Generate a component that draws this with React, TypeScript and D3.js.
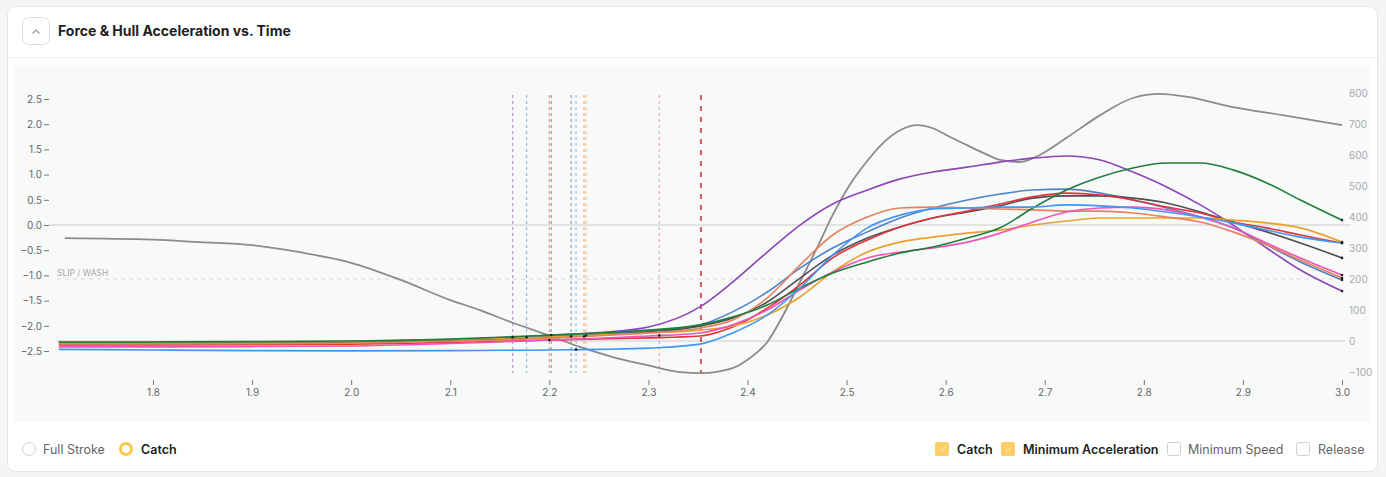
import { useEffect, useRef } from 'react'
import * as d3 from 'd3'

// time grid for the per-seat force curves (s)
const forceTime = [
  1.705, 1.8, 1.9, 2.0, 2.1, 2.15, 2.2, 2.25, 2.3,
  2.352, 2.385, 2.42, 2.453, 2.486, 2.521, 2.554, 2.587, 2.622, 2.655,
  2.688, 2.722, 2.756, 2.789, 2.823, 2.857, 2.89, 2.924, 2.958, 3.0,
]

// force per seat (right axis)
const purpleForce = [-8, -8, -7, -4, 4, 10, 18, 27, 45, 110, 190, 287, 374, 442, 487, 523, 545, 561, 577, 590, 597, 584, 545, 497, 439, 374, 300, 229, 161]
const steelForce = [-6, -6, -5, -3, 4, 9, 15, 22, 32, 52, 94, 158, 235, 300, 352, 397, 429, 455, 474, 487, 490, 477, 455, 429, 400, 365, 310, 255, 197]
const charcoalForce = [-5, -5, -5, -3, 3, 7, 12, 19, 29, 48, 74, 126, 203, 277, 332, 368, 397, 416, 436, 461, 468, 468, 461, 445, 416, 384, 352, 316, 268]
const redForce = [-13, -13, -12, -10, -5, -1, 3, 7, 10, 16, 45, 106, 181, 268, 326, 368, 397, 419, 442, 465, 477, 471, 455, 432, 413, 384, 365, 342, 316]
const orangeForce = [-3, -3, -3, -1, 5, 9, 13, 19, 26, 35, 48, 84, 142, 223, 287, 319, 335, 348, 358, 374, 387, 397, 397, 397, 397, 390, 381, 365, 319]
const salmonForce = [-9, -9, -9, -7, -1, 3, 9, 17, 26, 42, 68, 139, 245, 342, 400, 429, 432, 429, 426, 423, 419, 419, 413, 400, 384, 352, 310, 261, 203]
const pinkForce = [-19, -19, -18, -16, -8, -3, 3, 9, 16, 26, 52, 100, 165, 223, 268, 287, 300, 319, 348, 384, 416, 429, 432, 423, 400, 365, 316, 268, 213]
const greenForce = [-3, -3, -2, 0, 6, 12, 19, 26, 35, 52, 77, 116, 171, 219, 255, 284, 303, 332, 365, 429, 487, 529, 558, 574, 574, 552, 510, 455, 390]
const blueForce = [-27, -29, -31, -32, -31, -30, -29, -27, -23, -10, 26, 84, 171, 277, 365, 406, 426, 429, 432, 432, 439, 436, 429, 416, 400, 381, 358, 335, 316]

// hull acceleration (left axis)
const hullTime = [
  1.711, 1.8, 1.847, 1.9, 1.948, 2.0, 2.05, 2.1, 2.13, 2.163, 2.198, 2.231, 2.264, 2.299, 2.332, 2.353,
  2.385, 2.4025, 2.42, 2.436, 2.453, 2.47, 2.486, 2.503, 2.52, 2.537, 2.554, 2.571, 2.587, 2.604,
  2.621, 2.638, 2.655, 2.675, 2.695, 2.722, 2.756, 2.789, 2.816, 2.844, 2.89, 2.94, 3.0,
]
const hullAccel = [
  -0.26, -0.29, -0.34, -0.4, -0.54, -0.75, -1.09, -1.49, -1.69, -1.94, -2.18, -2.42, -2.62, -2.78, -2.92, -2.94,
  -2.84, -2.64, -2.32, -1.79, -1.13, -0.46, 0.2, 0.79, 1.25, 1.63, 1.88, 1.98, 1.92, 1.75,
  1.59, 1.43, 1.29, 1.25, 1.39, 1.73, 2.18, 2.52, 2.6, 2.54, 2.34, 2.18, 1.98,
]

const seatColors = ['#8e44b8', '#4f82c9', '#4d4f57', '#e0353a', '#e9a12c', '#e4825f', '#ee55b4', '#1f7f3a', '#3f96f6']
const seatForces = [purpleForce, steelForce, charcoalForce, redForce, orangeForce, salmonForce, pinkForce, greenForce, blueForce]
const seatCatch = [2.163, 2.177, 2.222, 2.2, 2.237, 2.235, 2.311, 2.202, 2.227]
const minAccelTime = 2.353
const slipWashForce = 200

const xTicks = [1.8, 1.9, 2.0, 2.1, 2.2, 2.3, 2.4, 2.5, 2.6, 2.7, 2.8, 2.9, 3.0]
const accelTicks = [-2.5, -2.0, -1.5, -1.0, -0.5, 0, 0.5, 1.0, 1.5, 2.0, 2.5]
const forceTicks = [-100, 0, 100, 200, 300, 400, 500, 600, 700, 800]

const font = 'Inter, "Noto Sans", sans-serif'

function valueAt(times: number[], values: number[], t: number) {
  const i = Math.min(Math.max(d3.bisectLeft(times, t), 1), times.length - 1)
  const f = (t - times[i - 1]) / (times[i] - times[i - 1])
  return values[i - 1] + f * (values[i] - values[i - 1])
}

export default function App() {
  const xAxisRef = useRef<SVGGElement>(null)
  const leftAxisRef = useRef<SVGGElement>(null)
  const rightAxisRef = useRef<SVGGElement>(null)

  const x = d3.scaleLinear().domain([1.8, 3.0]).range([153, 1342])
  const yAccel = d3.scaleLinear().domain([-2.5, 2.5]).range([351, 99])
  const yForce = d3.scaleLinear().domain([-100, 800]).range([372, 93])

  useEffect(() => {
    const fmt = d3.format('.1f')

    const gx = d3.select(xAxisRef.current!)
    gx.call(d3.axisBottom(x).tickValues(xTicks).tickSize(5).tickPadding(4).tickFormat((d) => fmt(d as number)))
    gx.select('.domain').remove()
    gx.attr('font-family', font).attr('font-size', 10)
    gx.selectAll('line').attr('stroke', '#777')
    gx.selectAll('text').attr('fill', '#666')

    const gl = d3.select(leftAxisRef.current!)
    gl.call(d3.axisLeft(yAccel).tickValues(accelTicks).tickSize(5).tickPadding(2).tickFormat((d) => fmt(d as number)))
    gl.select('.domain').remove()
    gl.attr('font-family', font).attr('font-size', 10)
    gl.selectAll('line').attr('stroke', '#777')
    gl.selectAll('text').attr('fill', '#666')

    const gr = d3.select(rightAxisRef.current!)
    gr.call(d3.axisRight(yForce).tickValues(forceTicks).tickSize(0).tickPadding(0))
    gr.select('.domain').remove()
    gr.attr('font-family', font).attr('font-size', 10)
    gr.selectAll('text').attr('fill', '#aaa')
  }, [])

  const hullLine = d3.line<number>()
    .x((_, i) => x(hullTime[i]))
    .y((d) => yAccel(d))
    .curve(d3.curveMonotoneX)

  const forceLine = d3.line<number>()
    .x((_, i) => x(forceTime[i]))
    .y((d) => yForce(d))
    .curve(d3.curveMonotoneX)

  const markTop = 95
  const markBottom = 373

  return (
    <div style={{ position: 'absolute', left: 0, top: 0, width: 1386, height: 477, background: '#f4f5f5' }}>
      <svg width={1386} height={477} style={{ display: 'block', fontFamily: font }}>
        {/* card */}
        <rect x={7.5} y={6.5} width={1370} height={465} rx={8} fill="#fff" stroke="#e4e6e6" />
        <rect x={22.5} y={17.5} width={27} height={27} rx={6} fill="#fff" stroke="#dcdcdc" />
        <polyline points="32.5,33.5 36,30 39.5,33.5" fill="none" stroke="#999" strokeWidth={1.2} />
        <text x={58} y={36} fontSize={14} fontWeight={700} fill="#1f2024">Force &amp; Hull Acceleration vs. Time</text>
        <line x1={8} x2={1377} y1={57.5} y2={57.5} stroke="#ececec" />

        {/* plot area */}
        <rect x={14} y={65} width={1356} height={357} fill="#f8f9f9" />

        <line x1={49} x2={1351} y1={yAccel(0)} y2={yAccel(0)} stroke="#dadada" strokeWidth={1.5} />
        <line x1={57} x2={1345} y1={yForce(0)} y2={yForce(0)} stroke="#dadada" strokeWidth={1.5} />
        <line x1={57} x2={1345} y1={yForce(slipWashForce)} y2={yForce(slipWashForce)} stroke="#d8d8d8" strokeDasharray="4,4" />
        <text x={57} y={yForce(slipWashForce) - 3} fontSize={8.5} fill="#a8a8a8">SLIP / WASH</text>

        {/* catch markers */}
        {seatCatch.map((t, i) => (
          <line key={`c${i}`} x1={x(t)} x2={x(t)} y1={markTop} y2={markBottom}
            stroke={seatColors[i]} strokeOpacity={0.55} strokeWidth={1.2} strokeDasharray="3,3" />
        ))}
        <line x1={x(minAccelTime)} x2={x(minAccelTime)} y1={markTop} y2={markBottom}
          stroke="#c93a3a" strokeWidth={1.6} strokeDasharray="5,6" />

        {/* hull acceleration */}
        <path d={hullLine(hullAccel) ?? ''} fill="none" stroke="#8b8b8b" strokeWidth={1.8} />

        {/* seat force curves */}
        {seatForces.map((vals, i) => (
          <path key={`f${i}`} d={forceLine(vals) ?? ''} fill="none" stroke={seatColors[i]} strokeWidth={1.6} />
        ))}

        {seatForces.map((vals, i) => (
          <g key={`d${i}`} fill="#222">
            <circle cx={x(seatCatch[i])} cy={yForce(valueAt(forceTime, vals, seatCatch[i]))} r={1.3} />
            <circle cx={x(forceTime[forceTime.length - 1])} cy={yForce(vals[vals.length - 1])} r={1.3} />
          </g>
        ))}

        <g ref={xAxisRef} transform="translate(0,380)" />
        <g ref={leftAxisRef} transform="translate(49,0)" />
        <g ref={rightAxisRef} transform="translate(1349,0)" />

        {/* legend */}
        <circle cx={29} cy={449} r={6.5} fill="#fff" stroke="#cfcfcf" />
        <text x={43} y={453.5} fontSize={12.5} fill="#666">Full Stroke</text>
        <circle cx={126} cy={449} r={5.5} fill="#fff" stroke="#fbc84a" strokeWidth={3} />
        <text x={141} y={453.5} fontSize={12.5} fontWeight={600} fill="#222">Catch</text>

        <rect x={935} y={442} width={14} height={14} rx={2} fill="#fdcf64" />
        <polyline points="939,449 941.5,451.5 945.5,446.5" fill="none" stroke="#fff" strokeOpacity={0.6} strokeWidth={1} />
        <text x={957} y={453.5} fontSize={12.5} fontWeight={600} fill="#222">Catch</text>
        <rect x={1001} y={442} width={14} height={14} rx={2} fill="#fdcf64" />
        <polyline points="1005,449 1007.5,451.5 1011.5,446.5" fill="none" stroke="#fff" strokeOpacity={0.6} strokeWidth={1} />
        <text x={1023} y={453.5} fontSize={12.5} fontWeight={600} fill="#222">Minimum Acceleration</text>
        <rect x={1167.5} y={442.5} width={13} height={13} rx={2} fill="#fff" stroke="#cfcfcf" />
        <text x={1188} y={453.5} fontSize={12.5} fill="#666">Minimum Speed</text>
        <rect x={1296.5} y={442.5} width={13} height={13} rx={2} fill="#fff" stroke="#cfcfcf" />
        <text x={1318} y={453.5} fontSize={12.5} fill="#666">Release</text>
      </svg>
    </div>
  )
}
